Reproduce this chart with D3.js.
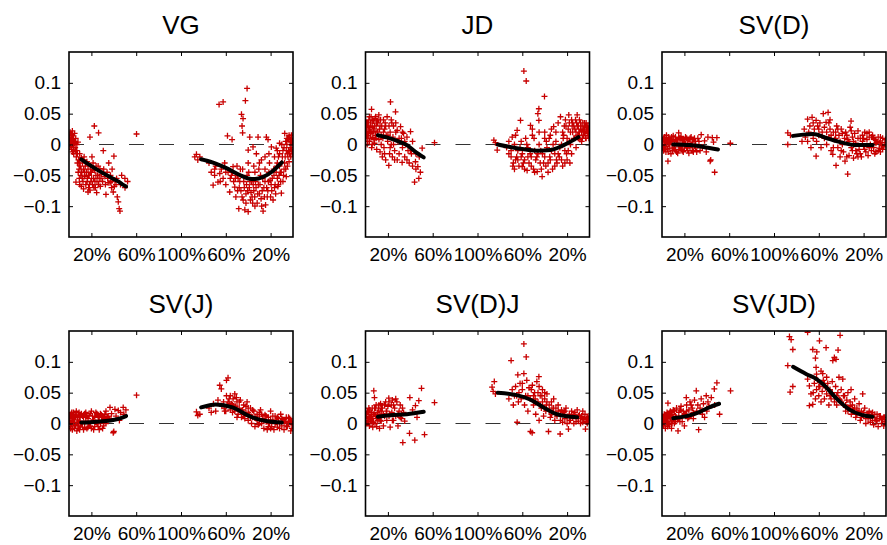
<!DOCTYPE html>
<html><head><meta charset="utf-8">
<script src="https://cdn.jsdelivr.net/npm/d3@7"></script>
<style>body{margin:0;background:#fff;}svg{display:block;}</style>
</head><body>
<script>
// ---- data ----
const titles = ["VG","JD","SV(D)","SV(J)","SV(D)J","SV(JD)"];
const xTickVals = [20,60,100,140,180];
const xTickLabels = ["20%","60%","100%","60%","20%"];
const yTickVals = [-0.1,-0.05,0,0.05,0.1];
const yTickLabels = ["\u22120.1","\u22120.05","0","0.05","0.1"];

const vgPts = [[0.5,0.012],[1,0.02],[1.5,0.005],[2,0.015],[0.8,-0.003],[2.5,0.01],[3,0.022],[1.2,0.0],[3.5,0.008],[2.2,-0.008],[4,0.014],[4.5,0.002],[1.8,0.017],[3.2,-0.012],[5,0.018],[5.5,-0.005],[0.3,0.008],[2.8,0.003],[4.2,-0.015],[6,0.01],
[6.5,-0.02],[7,-0.01],[7.5,-0.03],[8,0.004],[8.5,-0.025],[9,-0.04],[9.5,-0.015],[10,-0.035],[10.5,-0.05],[11,-0.022],[11.5,-0.045],[12,-0.03],[12.5,-0.06],[13,-0.04],[13.5,-0.02],[14,-0.052],[14.5,-0.035],[15,-0.065],[6.2,-0.061],[8.2,-0.045],[9.2,-0.055],
[15.5,-0.045],[16,-0.028],[16.5,-0.055],[17,-0.04],[17.5,-0.07],[18,-0.05],[18.7,-0.074],[19,-0.035],[19.5,-0.06],[20,-0.045],[21,-0.065],[21.5,-0.03],[22,-0.055],[22.6,0.03],[23,-0.042],[23.5,-0.07],[24,-0.05],[24.7,-0.078],[25,-0.06],[26,-0.035],[26.4,0.019],[27,-0.055],[27.6,-0.039],[28,-0.068],[29,-0.048],[30,-0.06],[18.7,0.012],[20.5,-0.02],[30.6,-0.01],
[31,-0.04],[32,-0.052],[33,-0.081],[34,-0.045],[35,-0.062],[36.6,-0.062],[37,-0.05],[38,-0.07],[39.5,-0.077],[40.1,-0.019],[41,-0.058],[42,-0.065],[43.1,-0.085],[44,-0.093],[45.5,-0.108],[44.8,-0.104],[46,-0.065],[47,-0.05],[49.9,-0.055],[52.3,-0.06],[50,-0.07],[60.3,0.017],[35.5,-0.03],[38.5,-0.04],
[112.3,-0.02],[113.8,-0.016],[116.8,-0.02],[115,-0.025],
[125,-0.03],[127,-0.045],[128.7,-0.066],[130,-0.05],[131,-0.035],[133,-0.061],[134,0.065],[137.6,0.069],[134.6,-0.047],[136,-0.04],[137.6,-0.055],[139,-0.03],[140,-0.065],[141.5,0.014],[142,-0.045],[143.5,-0.077],[144,-0.055],[145.6,0.008],[146.5,-0.036],[147,-0.06],[148,-0.069],[149,-0.085],[150,-0.05],[151.6,-0.104],[152,-0.07],[153,-0.04],[154,0.049],[155.4,0.042],[154.5,0.03],[155,0.019],[157.5,0.071],[159,0.091],[156,-0.06],[157,-0.106],[158,-0.08],[159,-0.05],[160,-0.109],[160,-0.009],[161.4,0.012],[161,-0.07],[162,-0.09],[163,-0.06],[164.3,-0.004],[165,-0.075],[165.8,-0.085],[166,-0.045],[167.3,-0.015],[168,-0.095],[168.8,0.012],[169,-0.065],[170,-0.08],[171,-0.05],[172,-0.1],[173.3,-0.108],[174,-0.07],[175,-0.04],[176.2,0.012],[177,-0.085],[177.7,0.008],[178,-0.06],[179,-0.03],[180.7,-0.004],[181,-0.075],[182.2,-0.09],[183,-0.05],[184,-0.065],[185,-0.006],[185.5,-0.035],[186,-0.055],[187,-0.02],[188,0.002],[188.5,-0.045],[189.6,-0.079],[190,-0.03],[191,-0.01],[192,-0.04],[192.6,0.018],[193,-0.02],[194,-0.052],[194.5,0.0],[195,-0.015],[196,0.008],[196.5,-0.028],[197,0.012],[197.5,-0.005],[198,0.004],[198.5,0.01],[199,-0.01],[199.5,0.006],[199,0.015],[198,-0.02],[195.5,0.01],[193.5,0.005],
[151,-0.055],[153.5,-0.075],[155.5,-0.09],[158.5,-0.065],[160.5,-0.045],[162.5,-0.078],[164,-0.095],[166.5,-0.06],[169.5,-0.04],[171.5,-0.088],[173,-0.055],[175.5,-0.098],[176.5,-0.07],[179.5,-0.058],[180,-0.085],[182.8,-0.04],[184.5,-0.08],[186.5,-0.068],[187.5,-0.05],[189,-0.06],[191.5,-0.05],[183.5,-0.02],[178.5,-0.015],[171.8,-0.025]];
const vgPtsB = [[1,0.0],[2,0.008],[3,0.018],[4,-0.005],[5,0.005],[6,-0.01],[7,0.0],[7.5,-0.015],[8.8,-0.03],[9.8,-0.025],[10.8,-0.04],[11.8,-0.055],[12.8,-0.025],[13.8,-0.045],[15.2,-0.03],[16.2,-0.06],[17.2,-0.05],[18.2,-0.065],[19.2,-0.045],[20.2,-0.055],[21.2,-0.04],[22.2,-0.07],[23.2,-0.06],[24.2,-0.035],[25.5,-0.05],[26.5,-0.065],[28.5,-0.055],[30.5,-0.045],[32.5,-0.065],[34.5,-0.055],[37.5,-0.06],[40.5,-0.068],[42.5,-0.055],[9.5,-0.065],[11,-0.068],[13,-0.072],[17,-0.077],
[146,-0.045],[148.5,-0.055],[150.5,-0.075],[152.5,-0.06],[154.5,-0.085],[156.5,-0.07],[158,-0.095],[159.5,-0.075],[161.5,-0.06],[163.5,-0.085],[164.5,-0.065],[166,-0.1],[167,-0.07],[168.5,-0.08],[170.5,-0.065],[172.5,-0.075],[174.5,-0.085],[175,-0.06],[177.5,-0.075],[178.5,-0.045],[180.5,-0.065],[181.5,-0.055],[183.5,-0.07],[185,-0.045],[186,-0.03],[187,-0.065],[188,-0.035],[189.5,-0.045],[190.5,-0.02],[191,-0.06],[192.5,-0.03],[193.5,-0.04],[194,-0.01],[195,-0.035],[195.5,-0.02],[196,-0.01],[197,-0.015],[197.5,0.005],[198,-0.008],[198.5,0.015],[199,0.0],[199.5,-0.015],[196.5,0.015],[194.5,0.01],[192,-0.005],[190,0.0],[188,-0.015],[186,-0.01],[175,-0.02],[170,-0.03],[165,-0.035],[160,-0.03],[155,-0.04],[150,-0.035],[145,-0.05],[140,-0.045],[135,-0.06],[130,-0.04]];

const jdPts = [[0.5,0.01],[1,0.025],[1.5,0.0],[2,0.035],[2.5,0.015],[3,0.04],[3.5,0.005],[4,0.028],[4.5,0.018],[5,0.045],[5.4,0.057],[5.5,-0.005],[6,0.03],[6.5,0.012],[7,0.038],[7.5,0.022],[8,0.002],[8.5,0.042],[9,0.015],[9.5,0.03],[10,-0.008],[10.5,0.02],[11,0.035],[11.9,0.048],[12,0.008],[12.5,0.025],[13,-0.012],[13.5,0.04],[14,0.015],[14.5,0.03],[15,-0.02],
[15.5,0.01],[16,0.04],[16.5,-0.005],[17,0.025],[17.5,0.035],[18,-0.025],[18.5,0.015],[19.3,0.045],[19.8,0.005],[20.8,-0.034],[21,0.03],[21.5,-0.015],[22,0.02],[22.3,0.069],[23,0.0],[23.5,0.035],[24,-0.02],[24.5,0.012],[25,0.03],[26,-0.01],[26.8,0.053],[27,0.02],[28.3,0.023],[28.3,-0.025],[29,0.005],[30,-0.015],[31.3,0.029],[32,0.01],[32.7,-0.029],[33,-0.005],[34,0.018],[35,-0.02],[36,0.0],[37,0.012],[38,-0.01],[40.2,0.021],[41,-0.015],[42,0.005],
[43.8,-0.061],[44.6,-0.028],[45,-0.04],[46.7,-0.036],[47.6,-0.055],[48,-0.02],[50.6,-0.006],[49,-0.045],[61.6,0.003],[39,-0.03],
[114.6,0.007],[117.6,-0.009],[116,0.003],[126,-0.005],[128,-0.015],[130,-0.02],[131,0.012],[132,-0.03],[133,0.0],[134,-0.025],[135.4,0.023],[136,-0.01],[137,-0.035],[138.4,0.039],[139,0.005],[139.9,-0.036],[140,-0.015],[141.4,0.119],[142,-0.025],[143.5,0.103],[143,0.01],[144.3,-0.042],[145,-0.005],[146,-0.03],[147.3,0.031],[148,-0.02],[149,0.015],[150,-0.04],[151,-0.01],[152,-0.025],[153.3,-0.044],[153.9,0.05],[154.8,0.058],[154.8,0.039],[155,0.0],[156,-0.03],[157.7,-0.052],[158,-0.015],[159.8,0.078],[160,0.02],[161,-0.035],[162,-0.005],[163,-0.045],[164,0.01],[165,-0.025],[166,0.025],[167,-0.04],[168,0.029],[169,-0.015],[170,0.005],[171,-0.03],[172,0.035],[173,-0.02],[174.1,0.045],[175,0.0],[176,-0.035],[177,0.015],[178,-0.01],[179,0.03],[180,-0.025],[181.5,0.048],[182,0.005],[183,0.02],[184,-0.015],[185,0.035],[186,0.01],[187,0.025],[188,-0.005],[189,0.048],[189.5,0.015],[190,0.03],[191,0.02],[192,0.035],[193,0.005],[194,0.025],[195,0.015],[196,0.03],[197,0.01],[198,0.022],[199,0.018],[199.5,0.03],[195.5,0.035],[193.5,0.01],[197.5,0.028],[191.5,0.008],[187.5,0.04],[184.5,0.03],
[131.5,-0.035],[135,-0.02],[138,-0.005],[141,-0.03],[144,0.0],[147,-0.015],[150.5,0.01],[153,-0.02],[156.5,-0.01],[159,-0.03],[161.5,0.005],[164.5,-0.02],[167.5,0.0],[170.5,-0.025],[173.5,-0.005],[176.5,0.01],[179.5,-0.015],[182.5,-0.03]];
const jdPtsB = [[0.5,0.02],[1,0.035],[1.5,0.015],[2,0.005],[2.5,0.03],[3,0.022],[3.5,0.045],[4,0.01],[4.5,0.035],[5,0.02],[6,0.0],[6.5,0.04],[7,0.025],[7.5,0.008],[8,0.03],[9,0.045],[9.5,0.01],[10,0.035],[11,0.02],[12,0.04],[13,0.03],[14,0.0],[16,0.02],[17,-0.015],[18,0.03],[20,0.015],[22,-0.005],[23,0.04],[25,0.0],[26,-0.025],[27,0.035],[30,0.01],[33,0.02],[35,0.005],[37,-0.025],[40,-0.01],[42,-0.035],[45,-0.015],
[176,0.02],[177.5,0.03],[178.5,0.04],[180,0.01],[181,0.025],[182,0.035],[183,0.0],[184,0.04],[185,0.02],[186,0.03],[187,0.01],[188,0.02],[189,0.03],[190,0.01],[191,0.04],[192,0.025],[193,0.02],[194,0.035],[195,0.025],[196,0.02],[197,0.035],[198,0.03],[199,0.025],[199.5,0.01],[198.5,0.015],[196.5,0.01],[194.5,0.015],[192.5,0.03],[190.5,0.02],[188.5,0.035],
[130,-0.01],[133,-0.04],[136,-0.025],[139,-0.02],[142,-0.04],[145,-0.02],[148,-0.035],[151,-0.045],[154,-0.015],[157,-0.04],[160,-0.02],[163,-0.03],[166,-0.01],[169,-0.035],[172,-0.015],[175,-0.025],[178,-0.03],[181,-0.01],[149,0.025],[155,0.02],[160,0.01],[165,0.015],[170,0.02],[128,0.005],[134,0.015]];

const svdPts = [[0.5,0.005],[1,-0.005],[1.5,0.01],[2,0.0],[2.5,0.012],[3,-0.008],[3.5,0.004],[4,0.015],[4.5,-0.003],[5,0.008],[5.3,-0.027],[5.5,-0.012],[6,0.002],[6.5,0.01],[7,-0.006],[7.5,0.006],[8,-0.015],[8.5,0.012],[9,0.0],[9.5,-0.01],[10,0.008],[11,-0.004],[12,0.012],[13,-0.012],[14,0.004],[14.9,0.019],[15,-0.008],[16,0.01],[17,-0.002],[18,0.008],[19,-0.012],[20,0.002],[21,0.012],[22,-0.006],[23,0.006],[24,-0.014],[25,0.01],[26,0.0],[27,-0.01],[28,0.008],[29,-0.003],[30,0.005],[31,-0.012],[32,0.01],
[35,0.016],[36,-0.004],[38,0.006],[39.5,-0.012],[41,0.012],[43,-0.027],[43.5,-0.025],[44.9,0.011],[47,-0.045],[49,0.011],[61,0.002],[46,0.004],
[112.3,0.019],[114.7,0.015],[112.3,0.0],[125,0.005],[127,0.025],[128,0.012],[130,0.041],[131,0.02],[132,0.03],[133,-0.005],[134,0.044],[135,0.01],[136,0.025],[137.6,0.039],[137.6,-0.019],[138,0.005],[139,0.03],[140,0.015],[141,0.035],[142,-0.005],[143,0.02],[144,0.05],[145,0.028],[146.5,0.036],[147,0.0],[148.3,0.052],[149,0.012],[150,0.025],[151,-0.01],[152.5,-0.016],[153,0.02],[154,0.008],[155.4,-0.034],[156,0.03],[157,-0.005],[158,0.015],[159,-0.02],[160,0.025],[161,0.0],[162,-0.012],[163.4,-0.027],[164,0.02],[165.8,-0.048],[166,0.008],[167,-0.018],[168,0.028],[168.8,0.038],[169,-0.005],[170,0.012],[171,-0.022],[172,0.018],[173,0.002],[174,-0.015],[175,0.022],[176,-0.008],[177,0.01],[178,-0.02],[179,0.015],[180,-0.003],[181,0.02],[182,-0.012],[183,0.008],[184,-0.018],[185,0.012],[186,0.0],[187,-0.01],[188,0.015],[189,-0.005],[190,0.008],[191,-0.012],[192,0.004],[193,0.012],[194,-0.006],[195,0.006],[196,-0.002],[197,0.01],[198,-0.004],[199,0.003],[199.5,0.008],[196.5,0.0],[194.5,0.003]];
const svdPtsB = [[0.5,-0.005],[1,0.008],[1.5,-0.01],[2,0.012],[2.5,-0.004],[3,0.006],[3.5,-0.012],[4,0.002],[5,-0.007],[6,0.012],[7,0.004],[8,0.009],[9,-0.006],[10,0.014],[11,0.005],[12,-0.008],[13,0.007],[14,-0.014],[15,0.012],[16,-0.004],[17,0.013],[18,-0.01],[19,0.006],[20,-0.006],[21,0.0],[22,0.01],[23,-0.01],[24,0.008],[25,-0.005],[26,0.012],[27,0.004],[28,-0.012],[29,0.01],[30,-0.006],[33,0.005],[34,-0.01],
[145,0.01],[147,0.02],[149,0.035],[151,0.015],[153,-0.005],[155,0.02],[157,0.025],[159,0.005],[161,0.018],[163,0.01],[165,0.015],[167,0.005],[169,0.022],[171,0.005],[173,-0.01],[175,0.01],[177,-0.015],[179,0.005],[181,-0.008],[183,0.018],[185,-0.005],[187,0.012],[189,0.01],[191,0.002],[193,-0.01],[195,0.012],[197,-0.008],[199,0.0],[160,-0.01],[165,-0.02],[170,-0.01],[175,-0.02],[180,0.01],[185,0.02],[190,-0.015],[195,-0.012],[155,0.01],[150,0.04],[140,0.025],[135,0.035],[130,0.005]];

const svjPts = [[0.5,0.005],[1,-0.005],[1.5,0.012],[2,0.0],[2.5,0.018],[3,-0.01],[3.5,0.008],[4,0.002],[4.5,0.015],[5,-0.008],[5.5,0.01],[6,-0.002],[6.5,0.02],[7,-0.012],[7.5,0.006],[8,0.014],[8.5,-0.004],[9,0.01],[9.5,-0.01],[10,0.004],[11,0.016],[12,-0.006],[13,0.01],[14,0.0],[15,0.018],[16,-0.008],[17,0.008],[18,0.013],[19,-0.004],[20,0.02],[21,0.004],[22,-0.01],[23,0.012],[24,0.002],[25,0.016],[26,-0.005],[27,0.01],[28,0.0],[29,0.014],[30,-0.008],[31,0.006],[32,0.015],[33,0.0],[34,0.01],
[36.6,0.026],[37.5,0.008],[39.5,-0.015],[40,-0.013],[41,0.023],[42,0.012],[44,0.021],[45,0.005],[48.4,0.026],[50.8,0.022],[49,0.015],[60.3,0.046],[38,0.016],[46,0.018],
[113.8,0.019],[116.8,0.015],[115,0.013],[125,0.025],[127,0.018],[129,0.032],[131,0.02],[133,0.038],[134.6,0.062],[136,0.056],[136.5,0.028],[138,0.035],[139,0.02],[140.6,0.07],[142,0.074],[140.6,0.045],[141,0.03],[143,0.04],[144,0.022],[145,0.032],[146,0.018],[148,0.048],[148.5,0.028],[150,0.035],[151,0.015],[152,0.025],[153,0.038],[154,0.01],[155,0.022],[156,0.03],[157,0.008],[158,0.018],[159,0.035],[160,0.005],[161,0.015],[162,0.025],[163,0.0],[164,0.01],[165,0.02],[166,-0.005],[167,0.008],[168,0.015],[169,-0.002],[170,0.012],[171,0.022],[172,0.0],[173,0.008],[174,-0.008],[175,0.014],[176,0.003],[177,-0.01],[178,0.01],[179,0.0],[180,0.02],[181,-0.005],[182,0.006],[183,-0.01],[184,0.012],[185,0.002],[186,-0.006],[187,0.008],[188,0.0],[189,0.015],[190,-0.004],[191,0.006],[192,-0.01],[193,0.004],[194,0.01],[195,-0.005],[196,0.002],[197,0.008],[198,-0.012],[199,0.004],[199.5,-0.002],[156.5,0.012],[153.5,0.02],[149.5,0.042],[146.5,0.04],[143.5,0.03],[138.5,0.025]];
const svjPtsB = [[0.5,0.012],[1,0.002],[1.5,-0.008],[2,0.016],[2.5,0.004],[3,0.01],[3.5,-0.004],[4,0.018],[5,0.006],[6,0.012],[7,0.002],[8,-0.008],[9,0.018],[10,-0.006],[11,0.0],[12,0.012],[13,-0.01],[14,0.016],[15,0.004],[16,0.012],[17,-0.006],[18,0.0],[19,0.016],[20,-0.008],[21,0.012],[22,0.006],[23,-0.005],[24,0.018],[25,0.0],[26,0.01],[27,-0.01],[28,0.016],[29,0.004],[30,0.012],[31,-0.004],[32,0.008],[33,0.02],[35,0.012],
[140,0.02],[142,0.035],[144,0.045],[146,0.03],[148,0.02],[150,0.025],[152,0.035],[154,0.02],[156,0.015],[158,0.028],[160,0.018],[162,0.01],[164,0.022],[166,0.01],[168,0.005],[170,0.0],[172,0.015],[174,0.005],[176,0.012],[178,-0.005],[180,0.006],[182,0.012],[184,0.0],[186,0.01],[188,-0.008],[190,0.008],[192,0.002],[194,-0.004],[196,0.01],[198,0.004],[199,-0.008],[150,0.01],[160,0.025],[170,0.018],[180,-0.008]];

const svdjPts = [[0.5,0.005],[1,0.012],[1.5,0.0],[2,0.02],[2.5,0.008],[3,0.015],[3.5,-0.004],[4,0.022],[4.5,0.01],[5,0.003],[5.5,0.018],[6,0.008],[6.5,-0.006],[7,0.015],[7.4,0.053],[8,0.042],[8,0.025],[8.5,0.0],[9,0.012],[9.5,0.03],[10,-0.005],[10.5,0.018],[11,0.005],[11.5,0.025],[12,0.01],[12.5,-0.008],[13,0.02],[13.5,0.032],[14,0.004],[14.5,0.015],[15,0.025],
[16,-0.004],[17,0.012],[18,0.035],[18.5,0.02],[19,0.005],[20,0.028],[20.8,0.041],[21,0.012],[22,-0.006],[23,0.03],[23.5,0.018],[24,0.038],[25,0.005],[26,0.025],[27,0.012],[28,0.035],[29,-0.004],[30,0.02],[31,0.03],[32,0.008],[33.3,-0.031],[34,0.018],[35,0.004],[39.3,-0.016],[39.6,0.042],[44.6,0.029],[44,-0.027],[47.6,0.037],[50,0.057],[52.7,-0.018],[61.6,0.034],[42,0.022],[46,0.01],
[113,0.059],[115,0.068],[116,0.048],[114,0.052],[128,0.04],[130,0.102],[131,0.055],[132,0.03],[133,0.045],[134,0.06],[135.4,0.002],[136,0.079],[136.5,0.035],[137,0.05],[138,0.065],[139,0.04],[140,0.055],[141.4,0.081],[141.4,0.129],[143.5,0.108],[142,0.03],[143,0.045],[144,0.07],[145,0.02],[146,0.058],[147,0.04],[147.3,-0.013],[148.8,-0.015],[149,0.062],[150,0.03],[151,0.05],[152,0.015],[153,0.068],[154,0.035],[154.8,0.076],[155,0.005],[156,0.045],[157,0.025],[158,0.055],[159,0.012],[160,0.04],[161,0.02],[162,0.048],[163.4,-0.013],[164,0.03],[165,0.01],[166,0.035],[167,0.018],[168,0.04],[169,0.005],[170,0.025],[171,0.012],[172,0.03],[173.8,-0.017],[174,0.015],[175,0.022],[176,0.002],[177,0.018],[178,0.008],[179,0.025],[180,0.0],[181.2,-0.009],[182,0.015],[183,0.005],[184,0.02],[185,0.01],[186,0.0],[187,0.018],[188,0.008],[189,0.022],[190,0.004],[191,0.014],[192,0.0],[193,0.012],[194,0.02],[195,0.006],[196.4,-0.009],[196,0.015],[197,0.003],[198,0.01],[199,0.005],[199.5,0.012],[151.5,0.04],[157.5,0.045],[161.5,0.03],[166.5,0.025]];
const svdjPtsB = [[0.5,0.015],[1,0.0],[1.5,0.02],[2,0.008],[2.5,0.0],[3,0.025],[3.5,0.01],[4,0.004],[5,0.015],[6,0.025],[7,0.002],[8,0.015],[9,0.025],[10,0.008],[11,0.015],[12,0.03],[13,0.005],[14,0.025],[16,0.015],[17,0.03],[19,0.02],[21,0.035],[22,0.015],[24,0.005],[25,0.03],[27,0.04],[29,0.015],[31,0.01],[33,0.025],
[150,0.045],[152,0.035],[154,0.05],[156,0.03],[158,0.035],[160,0.025],[162,0.035],[164,0.02],[166,0.015],[168,0.025],[170,0.015],[172,0.02],[174,0.005],[176,0.015],[178,0.02],[180,0.01],[182,0.005],[184,0.012],[186,0.015],[188,0.003],[190,0.012],[192,0.008],[194,0.002],[196,0.01],[198,0.0],[199,0.008],[145,0.045],[140,0.065],[135,0.045],[148,0.055],[155,0.06],[160,0.05]];

const svjdPts = [[0.5,0.003],[1,0.01],[1.5,-0.004],[2,0.015],[2.5,0.006],[3,-0.008],[3.5,0.012],[4,0.002],[4.5,0.018],[5,-0.005],[5.3,0.033],[5.5,0.008],[6,0.014],[6.5,-0.002],[7,0.01],[7.5,0.02],[8,0.004],[8.5,-0.008],[9,0.015],[9.5,0.006],[10,0.022],[11,0.0],[12,0.012],[13,0.025],[14,0.006],[14.3,-0.012],[15,0.018],[16,0.003],[17,0.028],[18,0.012],[19,0.02],[20,-0.004],
[21,0.015],[21.7,0.042],[22,0.03],[23,0.008],[24,0.022],[25,0.035],[26,0.012],[27,0.025],[28,0.018],[29,0.038],[30.6,0.053],[31,0.02],[32,0.03],[32.7,-0.01],[34,0.025],[35,0.04],[36,0.015],[37,0.032],[39.5,0.045],[40,0.02],[41,0.035],[42,0.028],[44,0.042],[46.7,0.056],[49,0.066],[51.4,0.015],[61.2,0.053],[47,0.03],[38,0.01],
[112.3,0.094],[113.8,0.141],[115.3,0.136],[116.8,0.12],[114.4,0.051],[116.8,0.06],[130,0.148],[130,0.072],[131.6,0.061],[133,0.048],[131.6,0.029],[134.6,0.031],[134.6,0.12],[137,0.106],[137.6,0.091],[138.2,0.116],[140.6,0.134],[143.5,0.081],[146.5,0.123],[135,0.05],[136,0.065],[137,0.04],[138,0.055],[139,0.07],[140,0.045],[141,0.06],[142,0.035],[143,0.052],[144,0.07],[145,0.04],[146,0.058],[147,0.048],[148,0.065],[149,0.03],[150,0.055],[151,0.04],[152,0.068],[152.5,0.102],[153.9,0.107],[155.4,0.104],[157.2,0.119],[159,0.143],[154,0.045],[155,0.06],[156,0.03],[157,0.05],[158,0.075],[159,0.038],[160,0.055],[161.4,0.072],[162,0.03],[163,0.045],[164,0.02],[165,0.038],[166,0.05],[167,0.025],[168,0.035],[168.8,0.055],[169,0.015],[170,0.03],[171,0.022],[172,0.04],[173,0.01],[174,0.025],[175,0.018],[176,0.032],[177,0.005],[178,0.02],[179.2,0.048],[180,0.012],[181,0.025],[182,0.0],[183,0.015],[184,0.008],[185,0.02],[186,0.002],[187,0.012],[188,0.018],[189,-0.002],[190,0.01],[191,0.005],[192,0.015],[193,-0.005],[194,0.008],[195,0.012],[196,0.0],[197,0.006],[198,-0.004],[199,0.01],[199.5,0.003]];
const svjdPtsB = [[0.5,0.01],[1,-0.003],[1.5,0.008],[2,0.0],[2.5,0.012],[3,0.004],[4,0.01],[5,0.015],[6,0.0],[7,0.018],[8,0.012],[9,0.0],[10,0.01],[11,0.02],[12,0.003],[13,0.01],[15,0.008],[16,0.022],[18,0.003],[20,0.015],[22,0.02],[24,0.01],[26,0.03],[28,0.008],
[150,0.045],[152,0.05],[154,0.035],[156,0.045],[158,0.04],[160,0.035],[162,0.045],[164,0.03],[166,0.02],[168,0.028],[170,0.02],[172,0.025],[174,0.015],[176,0.02],[178,0.01],[180,0.018],[182,0.008],[184,0.015],[186,0.01],[188,0.005],[190,0.015],[192,0.004],[194,0.012],[196,0.006],[198,0.01],[199,0.0],[145,0.065],[140,0.06],[147,0.075],[142,0.085],[138,0.08]];

const vgLineL = [[11,-0.024],[20,-0.035],[30,-0.046],[40,-0.056],[45,-0.061],[48,-0.065],[51,-0.068]];
const vgLineR = [[118,-0.024],[128,-0.029],[140,-0.038],[152,-0.049],[160,-0.055],[166,-0.056],[173,-0.053],[182,-0.043],[190,-0.029]];
const jdLineL = [[11,0.015],[22,0.010],[31,0.004],[37,-0.001],[44,-0.011],[52,-0.021]];
const jdLineR = [[118,0.0],[135,-0.006],[153,-0.01],[165,-0.009],[177,-0.001],[190,0.012]];
const svdLineL = [[10,0.0],[25,-0.001],[37,-0.004],[50,-0.008]];
const svdLineR = [[117,0.014],[126,0.016],[135,0.017],[146,0.011],[161,0.003],[173,-0.001],[188,-0.001]];
const svjLineL = [[11,0.0016],[25,0.003],[37,0.005],[45,0.008],[51,0.012]];
const svjLineR = [[118,0.026],[131,0.031],[146,0.026],[161,0.012],[176,0.004],[190,0.0016]];
const svdjLineL = [[11,0.011],[22,0.0135],[37,0.015],[52,0.019]];
const svdjLineR = [[118,0.05],[135,0.046],[147,0.039],[159,0.026],[171,0.015],[189,0.01]];
const svjdLineL = [[10,0.0086],[22,0.012],[34,0.019],[42,0.026],[51,0.032]];
const svjdLineR = [[117,0.092],[129,0.08],[138,0.072],[146,0.06],[155,0.042],[167,0.023],[179,0.0135],[188,0.011]];

const panelPts = [vgPts.concat(vgPtsB), jdPts.concat(jdPtsB), svdPts.concat(svdPtsB),
                  svjPts.concat(svjPtsB), svdjPts.concat(svdjPtsB), svjdPts.concat(svjdPtsB)];
const panelLines = [[vgLineL,vgLineR],[jdLineL,jdLineR],[svdLineL,svdLineR],[svjLineL,svjLineR],[svdjLineL,svdjLineR],[svjdLineL,svjdLineR]];

// ---- layout ----
const W = 887, H = 545;
const pw = 224, ph = 185;
const lefts = [69, 365.5, 662];
const tops = [52, 331];
const font = "'Liberation Sans', Arial, Helvetica, sans-serif";

const svg = d3.select("body").append("svg").attr("width", W).attr("height", H);

titles.forEach((t, i) => {
  const col = i % 3, row = Math.floor(i / 3);
  const g = svg.append("g").attr("transform", `translate(${lefts[col]},${tops[row]})`);
  const x = d3.scaleLinear().domain([0, 200]).range([0, pw]);
  const y = d3.scaleLinear().domain([-0.15, 0.15]).range([ph, 0]);

  g.append("clipPath").attr("id", "clip" + i).append("rect").attr("width", pw).attr("height", ph);
  const inner = g.append("g").attr("clip-path", `url(#clip${i})`);

  // zero line
  inner.append("line").attr("x1", x(0)).attr("x2", x(200)).attr("y1", y(0)).attr("y2", y(0))
    .attr("stroke", "#333").attr("stroke-width", 1.2).attr("stroke-dasharray", "15,15");

  // markers
  const s = 3;
  inner.append("path")
    .attr("d", panelPts[i].map(d => {
      const px = x(d[0]), py = y(d[1]);
      return `M${px - s},${py}h${2 * s}M${px},${py - s}v${2 * s}`;
    }).join(""))
    .attr("stroke", "#c80000").attr("stroke-width", 1.3).attr("fill", "none");

  // smooth lines
  const line = d3.line().x(d => x(d[0])).y(d => y(d[1])).curve(d3.curveMonotoneX);
  panelLines[i].forEach(L => {
    inner.append("path").attr("d", line(L)).attr("fill", "none")
      .attr("stroke", "#000").attr("stroke-width", 4).attr("stroke-linecap", "round");
  });

  // axes
  const axB = g.append("g").attr("transform", `translate(0,${ph})`)
    .call(d3.axisBottom(x).tickValues(xTickVals).tickSize(-4)
      .tickFormat((d, k) => xTickLabels[k]));
  const axT = g.append("g").call(d3.axisTop(x).tickValues(xTickVals).tickSize(-4).tickFormat(""));
  const axL = g.append("g")
    .call(d3.axisLeft(y).tickValues(yTickVals).tickSize(-4).tickPadding(8)
      .tickFormat((d, k) => yTickLabels[k]));
  const axR = g.append("g").attr("transform", `translate(${pw},0)`)
    .call(d3.axisRight(y).tickValues(yTickVals).tickSize(-4).tickFormat(""));
  [axB, axT, axL, axR].forEach(a => {
    a.select(".domain").remove();
    a.selectAll(".tick line").attr("stroke", "#000").attr("stroke-width", 1);
    a.selectAll("text").attr("font-family", font).attr("font-size", 19).attr("fill", "#000");
  });
  axB.selectAll("text").attr("y", 24).attr("dy", null);

  // box
  g.append("rect").attr("width", pw).attr("height", ph).attr("fill", "none")
    .attr("stroke", "#000").attr("stroke-width", 1.6);

  // title
  g.append("text").attr("x", pw / 2).attr("y", -18).attr("text-anchor", "middle")
    .attr("font-family", font).attr("font-size", 26).attr("fill", "#000").text(t);
});
</script>
</body></html>
